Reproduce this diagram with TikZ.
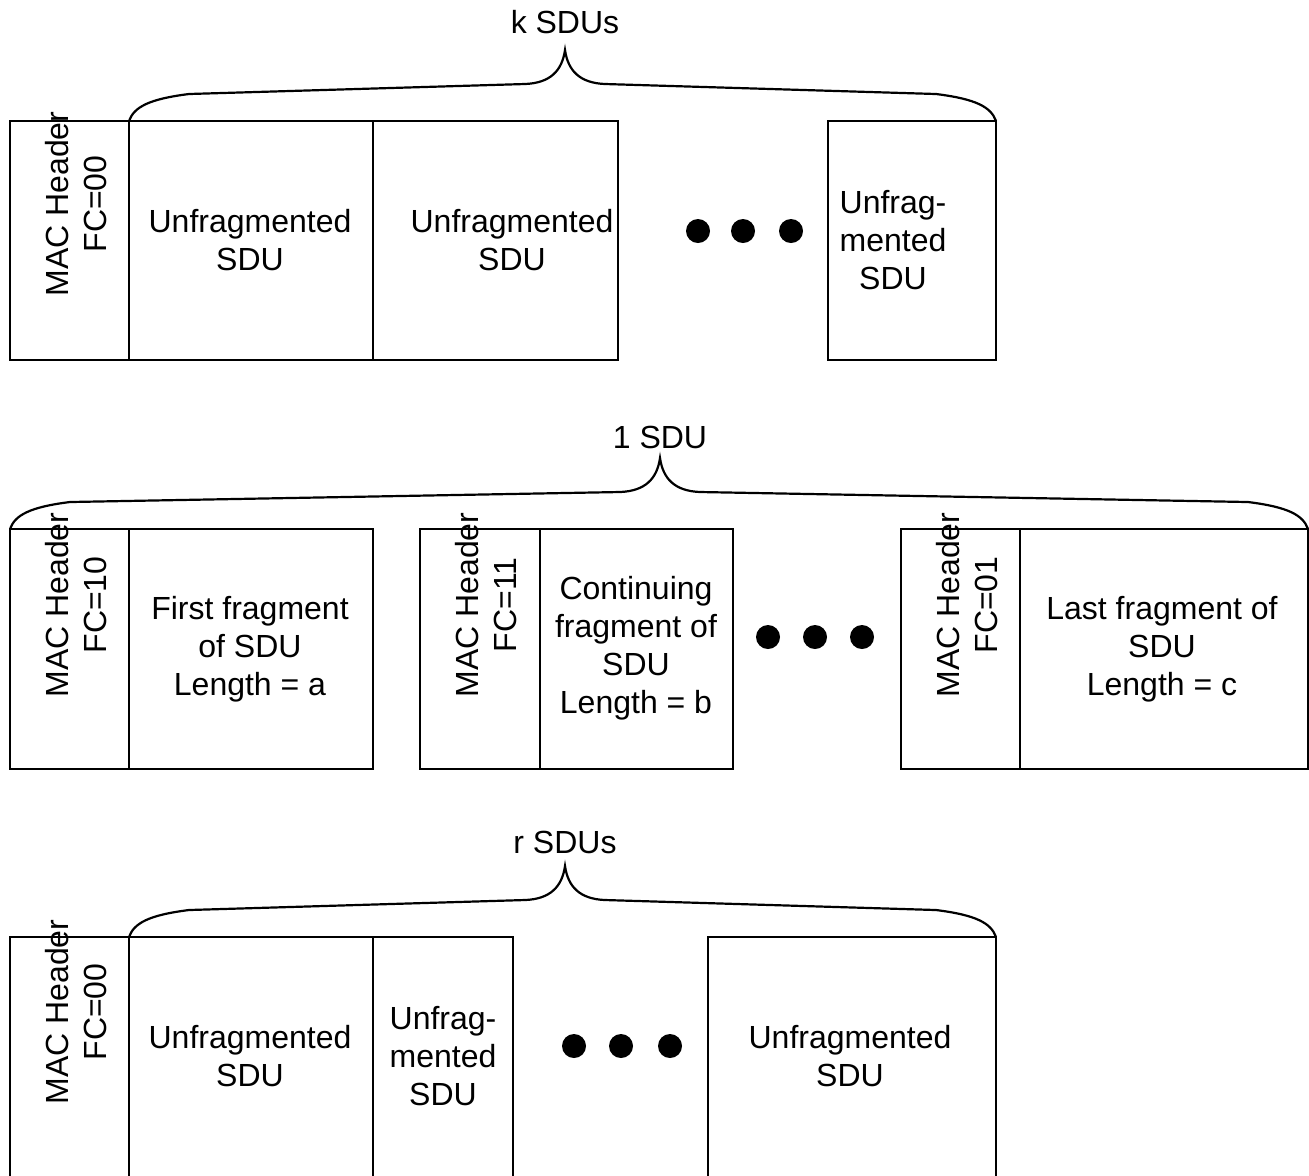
\documentclass[tikz,border=0pt]{standalone}
\usepackage{fontspec}
\setmainfont{Liberation Sans}
\newcommand{\mybrace}[4]{%
  \draw[bracel] (#1,#4) .. controls ({#1+5},{#4+14}) and ({#1+20},{#4+22}) .. ({#1+60},{#4+27})
    -- ({#3-40},{#4+37}) .. controls ({#3-15},{#4+38}) and ({#3-3},{#4+50}) .. (#3,{#4+71})
    .. controls ({#3+3},{#4+50}) and ({#3+15},{#4+38}) .. ({#3+40},{#4+37})
    -- ({#2-60},{#4+27}) .. controls ({#2-20},{#4+22}) and ({#2-5},{#4+14}) .. (#2,#4);}
\tikzset{
  x=0.5pt, y=0.5pt,
  boxl/.style={draw=black, line width=1.1pt},
  bracel/.style={draw=black, line width=1.1pt},
  txt/.style={align=center, inner sep=0pt, font=\fontsize{16}{19}\selectfont},
  hdr/.style={txt, rotate=90},
  dotf/.style={fill=black, circle, inner sep=0pt, minimum size=12pt},
}
\begin{document}
\begin{tikzpicture}
\useasboundingbox (0,0) rectangle (1309,-1175);
\clip (0,0) rectangle (1309,-1175);
% ---------- Row 1 ----------
\draw[boxl] (10,-121) rectangle (129,-360);
\draw[boxl] (129,-121) rectangle (373,-360);
\draw[boxl] (373,-121) rectangle (618,-360);
\draw[boxl] (828,-121) rectangle (996,-360);
\node[hdr] (h1) at (76,-204) {MAC Header\\FC=00};
\node[txt] (u11) at (250,-240) {Unfragmented\\SDU};
\node[txt] (u12) at (512,-240) {Unfragmented\\SDU};
\node[txt] (u13) at (893,-240) {Unfrag-\\mented\\SDU};
\node[dotf] (d11) at (698,-231) {};
\node[dotf] (d12) at (743,-231) {};
\node[dotf] (d13) at (791,-231) {};
\mybrace{129}{996}{565}{-121}
\node[txt] (k) at (565,-22) {k SDUs};
% ---------- Row 2 ----------
\draw[boxl] (10,-529) rectangle (129,-769);
\draw[boxl] (129,-529) rectangle (373,-769);
\draw[boxl] (420,-529) rectangle (540,-769);
\draw[boxl] (540,-529) rectangle (733,-769);
\draw[boxl] (901,-529) rectangle (1020,-769);
\draw[boxl] (1020,-529) rectangle (1308,-769);
\node[hdr] (h21) at (76,-605) {MAC Header\\FC=10};
\node[hdr] (h22) at (486,-605) {MAC Header\\FC=11};
\node[hdr] (h23) at (967,-605) {MAC Header\\FC=01};
\node[txt] (f1) at (250,-649) {First fragment\\of SDU\\Length = a};
\node[txt] (f2) at (636,-648) {Continuing\\fragment of\\SDU\\Length = b};
\node[txt] (f3) at (1162,-649) {Last fragment of\\SDU\\Length = c};
\node[dotf] (d21) at (768,-637) {};
\node[dotf] (d22) at (815,-637) {};
\node[dotf] (d23) at (862,-637) {};
\mybrace{10}{1308}{660}{-529}
\node[txt] (one) at (660,-437) {1 SDU};
% ---------- Row 3 ----------
\draw[boxl] (10,-937) rectangle (129,-1185);
\draw[boxl] (129,-937) rectangle (373,-1185);
\draw[boxl] (373,-937) rectangle (513,-1185);
\draw[boxl] (708,-937) rectangle (996,-1185);
\node[hdr] (h3) at (76,-1012) {MAC Header\\FC=00};
\node[txt] (u31) at (250,-1056) {Unfragmented\\SDU};
\node[txt] (u32) at (443,-1056) {Unfrag-\\mented\\SDU};
\node[txt] (u33) at (850,-1056) {Unfragmented\\SDU};
\node[dotf] (d31) at (574,-1046) {};
\node[dotf] (d32) at (621,-1046) {};
\node[dotf] (d33) at (670,-1046) {};
\mybrace{129}{996}{565}{-937}
\node[txt] (r) at (565,-842) {r SDUs};
\end{tikzpicture}
\end{document}
